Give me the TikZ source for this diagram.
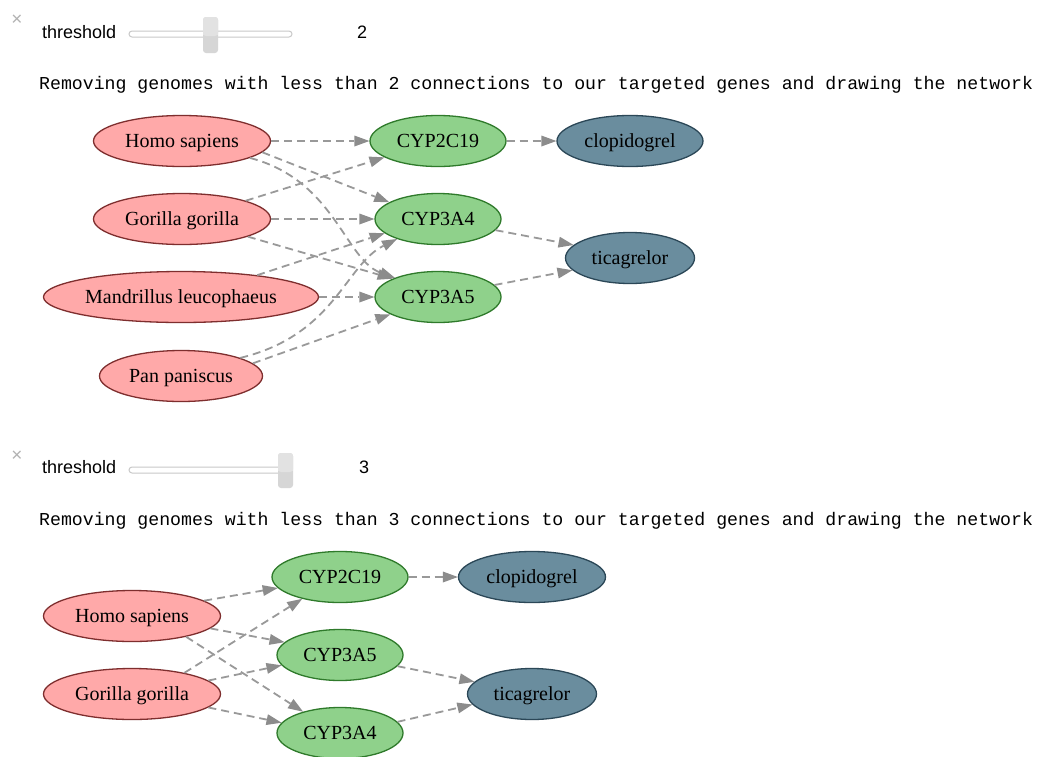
\documentclass[tikz,border=0pt]{standalone}
\usepackage{fontspec}
\setmainfont{Liberation Serif}
\newfontfamily\uisans{Liberation Sans}
\newfontfamily\codemono{Liberation Mono}
\usetikzlibrary{shapes.geometric,arrows.meta}

\definecolor{speciesfill}{HTML}{FFA9A9}
\definecolor{speciesline}{HTML}{7E2E2E}
\definecolor{genefill}{HTML}{8FD18B}
\definecolor{geneline}{HTML}{2F7A2B}
\definecolor{drugfill}{HTML}{6A8D9E}
\definecolor{drugline}{HTML}{2B4757}
\definecolor{edgegray}{HTML}{999999}
\definecolor{tipgray}{HTML}{8C8C8C}
\definecolor{tracklight}{HTML}{C9C9C9}
\definecolor{thumbtop}{HTML}{E2E2E2}
\definecolor{thumbbottom}{HTML}{D6D6D6}

\tikzset{
  graphnode/.style={ellipse, draw, line width=1.3pt, inner sep=0pt,
    minimum height=51pt, text height=13.2pt, text depth=0pt,
    font=\fontsize{20}{20}\selectfont},
  species/.style={graphnode, fill=speciesfill, draw=speciesline},
  gene/.style={graphnode, fill=genefill, draw=geneline},
  drug/.style={graphnode, fill=drugfill, draw=drugline},
  edge/.style={draw=edgegray, line width=1.8pt, dash pattern=on 8pt off 5pt,
    -{Triangle[length=15pt,width=11pt,fill=tipgray,color=tipgray,line width=0pt]}},
  uilabel/.style={anchor=west, inner sep=0pt, font=\uisans\fontsize{18}{20}\selectfont},
  closemark/.style={inner sep=0pt, text=black!30, font=\uisans\fontsize{19}{20}\selectfont},
  codeline/.style={anchor=west, inner sep=0pt, font=\codemono\fontsize{18.2}{20}\selectfont},
  track/.style={fill=white, draw=tracklight, line width=1pt, rounded corners=3pt},
}

\begin{document}
\begin{tikzpicture}[x=1pt,y=-1pt]
\useasboundingbox[fill=white] (0,0) rectangle (1037,756);

% ---------- first control: threshold = 2 ----------
\node[closemark] (close1) at (17,20) {×};
\node[uilabel] (lab1) at (42,32) {threshold};
\draw[track] (129,31) rectangle (292,37);
\fill[thumbbottom, rounded corners=3pt] (203,17) rectangle (218,53);
\fill[thumbtop, rounded corners=3pt] (203,17) rectangle (218,36);
\fill[thumbtop] (203,30) rectangle (218,35);
\node[uilabel] (val1) at (357,32) {2};
\node[codeline] (msg1) at (39,85) {Removing genomes with less than 2 connections to our targeted genes and drawing the network};

% ---------- first network ----------
\node[species, minimum width=177pt] (hs1) at (182,141) {Homo sapiens};
\node[species, minimum width=177pt] (gg1) at (182,219) {Gorilla gorilla};
\node[species, minimum width=275pt] (ml1) at (181,297) {Mandrillus leucophaeus};
\node[species, minimum width=163pt] (pp1) at (181,376) {Pan paniscus};
\node[gene, minimum width=136pt] (c19a) at (438,141) {CYP2C19};
\node[gene, minimum width=126pt] (a4a) at (438,219) {CYP3A4};
\node[gene, minimum width=126pt] (a5a) at (438,297) {CYP3A5};
\node[drug, minimum width=146pt] (clo1) at (630,141) {clopidogrel};
\node[drug, minimum width=129pt] (tic1) at (630,258) {ticagrelor};

\draw[edge] (hs1.east) -- (c19a.west);
\draw[edge] (hs1.-8) -- (a4a.161);
\draw[edge] (hs1.-14) .. controls (335,180) and (345,260) .. (a5a.156);
\draw[edge] (gg1.16) -- (c19a.197);
\draw[edge] (gg1.east) -- (a4a.west);
\draw[edge] (gg1.-15) -- (a5a.158);
\draw[edge] (ml1.16) -- (a4a.195);
\draw[edge] (ml1.east) -- (a5a.west);
\draw[edge] (pp1.17) .. controls (335,335) and (345,265) .. (a4a.206);
\draw[edge] (pp1.10) -- (a5a.200);
\draw[edge] (c19a.east) -- (clo1.west);
\draw[edge] (a4a.-11) -- (tic1.167);
\draw[edge] (a5a.12) -- (tic1.192);

% ---------- second control: threshold = 3 ----------
\node[closemark] (close2) at (17,456) {×};
\node[uilabel] (lab2) at (42,467) {threshold};
\draw[track] (129,467) rectangle (292,473);
\fill[thumbbottom, rounded corners=3pt] (278,453) rectangle (293,488);
\fill[thumbtop, rounded corners=3pt] (278,453) rectangle (293,472);
\fill[thumbtop] (278,466) rectangle (293,471);
\node[uilabel] (val2) at (359,467) {3};
\node[codeline] (msg2) at (39,521) {Removing genomes with less than 3 connections to our targeted genes and drawing the network};

% ---------- second network ----------
\node[species, minimum width=177pt] (hs2) at (132,616) {Homo sapiens};
\node[species, minimum width=177pt] (gg2) at (132,694) {Gorilla gorilla};
\node[gene, minimum width=136pt] (c19b) at (340,577) {CYP2C19};
\node[gene, minimum width=126pt] (a5b) at (340,655) {CYP3A5};
\node[gene, minimum width=126pt] (a4b) at (340,733) {CYP3A4};
\node[drug, minimum width=147pt] (clo2) at (532,577) {clopidogrel};
\node[drug, minimum width=129pt] (tic2) at (532,694) {ticagrelor};

\draw[edge] (hs2.12) -- (c19b.190);
\draw[edge] (hs2.-9) -- (a5b.167);
\draw[edge] (hs2.-21) -- (a4b.150);
\draw[edge] (gg2.22) -- (c19b.210);
\draw[edge] (gg2.10) -- (a5b.190);
\draw[edge] (gg2.-10) -- (a4b.170);
\draw[edge] (c19b.east) -- (clo2.west);
\draw[edge] (a5b.-11) -- (tic2.168);
\draw[edge] (a4b.11) -- (tic2.190);
\end{tikzpicture}
\end{document}
